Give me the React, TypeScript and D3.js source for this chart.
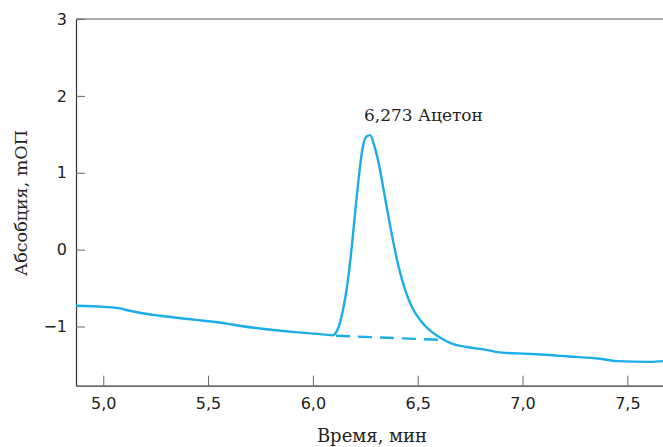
import React, { useEffect, useRef } from "react";
import * as d3 from "d3";

// chromatogram trace
const times = [
  4.87, 5.0, 5.08, 5.11, 5.18, 5.27, 5.43, 5.59, 5.65, 5.9, 6.06, 6.093,
  6.121, 6.14, 6.156, 6.172, 6.187, 6.204, 6.219, 6.235, 6.255, 6.273, 6.29,
  6.314, 6.338, 6.361, 6.385, 6.409, 6.441, 6.472, 6.519, 6.567, 6.614, 6.66,
  6.74, 6.82, 6.9, 6.98, 7.09, 7.22, 7.37, 7.45, 7.61, 7.67,
];
const absorb = [
  -0.73, -0.745, -0.765, -0.785, -0.824, -0.86, -0.91, -0.962, -0.99, -1.07,
  -1.105, -1.115, -1.02, -0.83, -0.6, -0.29, 0.08, 0.554, 0.944, 1.29, 1.47,
  1.49, 1.38, 1.12, 0.77, 0.42, 0.078, -0.226, -0.53, -0.746, -0.94, -1.07,
  -1.157, -1.22, -1.27, -1.3, -1.34, -1.35, -1.365, -1.39, -1.42, -1.45, -1.46,
  -1.45,
];
// integration baseline under the peak
const baseTimes = [6.11, 6.615];
const baseValues = [-1.12, -1.175];

const xTicks = [5.0, 5.5, 6.0, 6.5, 7.0, 7.5];
const yTicks = [-1, 0, 1, 2, 3];

const peakLabel = "6,273 Ацетон";
const xTitle = "Время, мин";
const yTitle = "Абсобция, mОП";

const App = () => {
  const ref = useRef<SVGSVGElement>(null);

  useEffect(() => {
    const width = 663;
    const height = 447;
    const left = 76;
    const top = 19;
    const bottom = 385.7;

    const locale = d3.formatLocale({
      decimal: ",",
      thousands: " ",
      grouping: [3],
      currency: ["", ""],
      minus: "\u2212",
    });

    const x = d3.scaleLinear().domain([4.87, 7.67]).range([left, width]);
    const y = d3.scaleLinear().domain([-1.77, 3]).range([bottom, top]);

    const svg = d3.select(ref.current);
    svg.selectAll("*").remove();

    const tickFont = "'DejaVu Sans', sans-serif";
    const labelFont = "'DejaVu Serif', serif";

    // top frame line
    svg
      .append("line")
      .attr("x1", left)
      .attr("x2", width)
      .attr("y1", top)
      .attr("y2", top)
      .attr("stroke", "#555")
      .attr("stroke-width", 1.2);

    // y axis
    svg
      .append("g")
      .attr("transform", `translate(${left},0)`)
      .call(
        d3
          .axisLeft(y)
          .tickValues(yTicks)
          .tickFormat(locale.format("d"))
          .tickSizeInner(-9)
          .tickSizeOuter(0)
          .tickPadding(9)
      )
      .call((g) => g.select(".domain").attr("stroke", "#333").attr("stroke-width", 1.2))
      .call((g) => g.selectAll(".tick line").attr("stroke", "#666"))
      .call((g) =>
        g
          .selectAll(".tick text")
          .attr("fill", "#222")
          .attr("font-family", tickFont)
          .attr("font-size", 16)
      );

    // x axis
    svg
      .append("g")
      .attr("transform", `translate(0,${bottom})`)
      .call(
        d3
          .axisBottom(x)
          .tickValues(xTicks)
          .tickFormat(locale.format(".1f"))
          .tickSizeInner(-10)
          .tickSizeOuter(0)
          .tickPadding(12)
      )
      .call((g) => g.select(".domain").attr("stroke", "#333").attr("stroke-width", 1.2))
      .call((g) => g.selectAll(".tick line").attr("stroke", "#666"))
      .call((g) =>
        g
          .selectAll(".tick text")
          .attr("fill", "#222")
          .attr("font-family", tickFont)
          .attr("font-size", 16)
      );

    // titles
    svg
      .append("text")
      .attr("x", 372)
      .attr("y", 442)
      .attr("text-anchor", "middle")
      .attr("font-family", labelFont)
      .attr("font-size", 18)
      .attr("fill", "#222")
      .text(xTitle);

    svg
      .append("text")
      .attr("transform", `translate(27,203) rotate(-90)`)
      .attr("text-anchor", "middle")
      .attr("font-family", labelFont)
      .attr("font-size", 17.5)
      .attr("fill", "#222")
      .text(yTitle);

    const line = d3
      .line<number>()
      .x((d) => x(d))
      .y((_, i) => y(absorb[i]))
      .curve(d3.curveMonotoneX);

    svg
      .append("path")
      .datum(times)
      .attr("fill", "none")
      .attr("stroke", "#1badea")
      .attr("stroke-width", 2.4)
      .attr("stroke-linejoin", "round")
      .attr("d", line);

    const baseLine = d3
      .line<number>()
      .x((d) => x(d))
      .y((_, i) => y(baseValues[i]));

    svg
      .append("path")
      .datum(baseTimes)
      .attr("fill", "none")
      .attr("stroke", "#1badea")
      .attr("stroke-width", 2.4)
      .attr("stroke-dasharray", "14,8")
      .attr("d", baseLine);

    // peak annotation
    svg
      .append("text")
      .attr("x", 364)
      .attr("y", 121)
      .attr("font-family", labelFont)
      .attr("font-size", 17)
      .attr("fill", "#222")
      .text(peakLabel);
  }, []);

  return (
    <svg
      ref={ref}
      width={663}
      height={447}
      style={{ position: "absolute", left: 0, top: 0, background: "#fff" }}
    ></svg>
  );
};

export default App;
